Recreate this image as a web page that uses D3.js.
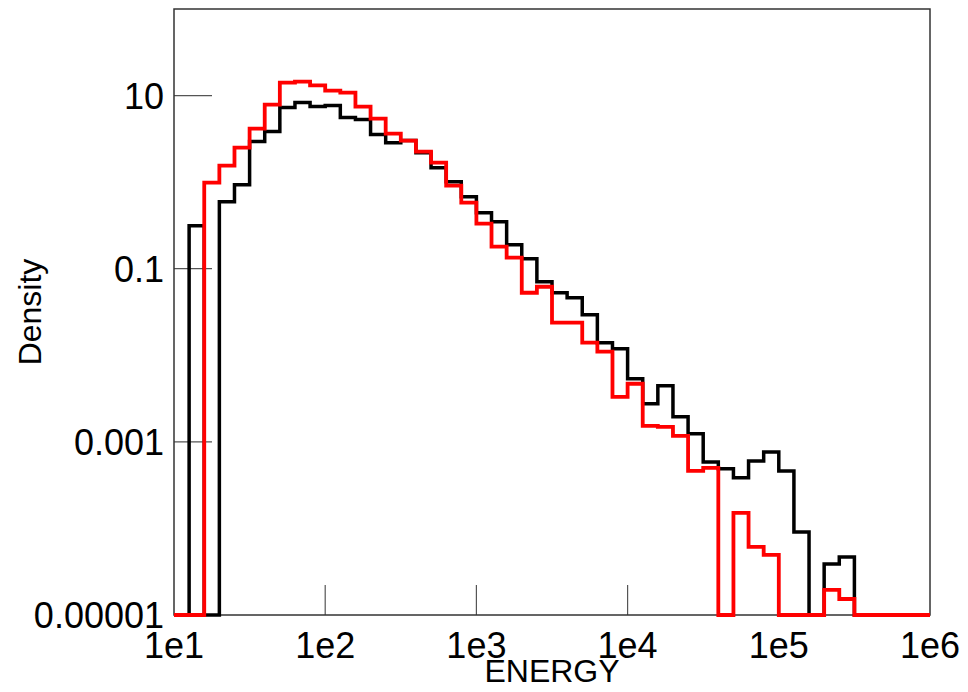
<!DOCTYPE html>
<html>
<head>
<meta charset="utf-8">
<script src="https://cdnjs.cloudflare.com/ajax/libs/d3/7.8.5/d3.min.js"></script>
<style>
	body { margin: 0; background: white; }
	text { font-family: "Liberation Sans", Arial, sans-serif; fill: black; }
</style>
</head>
<body>
<script>
// histogram: 10 log bins per decade from 1e1 to 1e6 (0 = empty bin)
var binStart = 1e1
var binsPerDecade = 10

var blackDensity = [
	0, 0.314, 0, 0.595, 0.936, 2.94, 3.84, 7.26, 8.30, 7.46,
	7.66, 5.57, 5.28, 3.54, 2.86, 3.02, 2.19, 1.47, 1.01, 0.680,
	0.444, 0.349, 0.189, 0.130, 0.0708, 0.0528, 0.0462, 0.0294, 0.0140, 0.0119,
	0.00535, 0.00275, 0.00444, 0.00195, 0.00124, 0.000587, 0.000488, 0.000384, 0.000603, 0.000766,
	0.000462, 0.0000911, 0, 0.0000389, 0.0000469, 0, 0, 0, 0, 0
]

var redDensity = [
	0, 0, 0.987, 1.55, 2.51, 4.15, 7.87, 14.1, 14.5, 13.1,
	11.4, 10.8, 7.46, 5.42, 3.64, 3.02, 2.25, 1.68, 0.911, 0.579,
	0.331, 0.180, 0.134, 0.0528, 0.0619, 0.0238, 0.0238, 0.0140, 0.0110, 0.00331,
	0.00469, 0.00153, 0.00149, 0.00117, 0.000462, 0.000500, 0, 0.000151, 0.0000611, 0.0000494,
	0, 0, 0, 0.0000195, 0.0000153, 0, 0, 0, 0, 0
]

var xTicks = [1e1, 1e2, 1e3, 1e4, 1e5, 1e6]
var xTickLabels = ["1e1", "1e2", "1e3", "1e4", "1e5", "1e6"]
var yTicks = [1e-5, 1e-3, 1e-1, 10]
var yTickLabels = ["0.00001", "0.001", "0.1", "10"]

var w = 968
var h = 692
var plotLeft = 174, plotRight = 930, plotTop = 9, plotBottom = 615

var xScale = d3.scaleLog()
	.domain([1e1, 1e6])
	.range([plotLeft, plotRight])

var yScale = d3.scaleLog()
	.domain([1e-5, 100])
	.range([plotBottom, plotTop])

var svg = d3.select("body")
	.append("svg")
	.attr("width", w)
	.attr("height", h)

// inward ticks
svg.append("g")
	.selectAll("line")
	.data(yTicks.slice(1))
	.enter()
	.append("line")
	.attr("x1", plotLeft)
	.attr("x2", plotLeft + 38)
	.attr("y1", (d) => yScale(d))
	.attr("y2", (d) => yScale(d))
	.attr("stroke", "#555")
	.attr("stroke-width", 1.2)

svg.append("g")
	.selectAll("line")
	.data(xTicks.slice(1, -1))
	.enter()
	.append("line")
	.attr("x1", (d) => xScale(d))
	.attr("x2", (d) => xScale(d))
	.attr("y1", plotBottom)
	.attr("y2", plotBottom - 30)
	.attr("stroke", "#555")
	.attr("stroke-width", 1.2)

// frame
svg.append("rect")
	.attr("x", plotLeft)
	.attr("y", plotTop)
	.attr("width", plotRight - plotLeft)
	.attr("height", plotBottom - plotTop)
	.attr("fill", "none")
	.attr("stroke", "#333")
	.attr("stroke-width", 1.5)

function stepPoints(values){
	var pts = values.map((v, i) => [binStart * Math.pow(10, i / binsPerDecade), v])
	pts.push([binStart * Math.pow(10, values.length / binsPerDecade), values[values.length - 1]])
	return pts
}

var line = d3.line()
	.x((d) => xScale(d[0]))
	.y((d) => d[1] > 0 ? yScale(d[1]) : plotBottom)
	.curve(d3.curveStepAfter)

svg.append("path")
	.datum(stepPoints(blackDensity))
	.attr("d", line)
	.attr("fill", "none")
	.attr("stroke", "black")
	.attr("stroke-width", 3.5)

svg.append("path")
	.datum(stepPoints(redDensity))
	.attr("d", line)
	.attr("fill", "none")
	.attr("stroke", "#ff0000")
	.attr("stroke-width", 3.8)

// tick labels
svg.append("g")
	.selectAll("text")
	.data(xTicks)
	.enter()
	.append("text")
	.attr("x", (d) => xScale(d))
	.attr("y", 658)
	.attr("text-anchor", "middle")
	.style("font-size", "36px")
	.text((d, i) => xTickLabels[i])

svg.append("g")
	.selectAll("text")
	.data(yTicks)
	.enter()
	.append("text")
	.attr("x", 164)
	.attr("y", (d) => yScale(d))
	.attr("dy", "0.36em")
	.attr("text-anchor", "end")
	.style("font-size", "36px")
	.text((d, i) => yTickLabels[i])

// axis titles
svg.append("text")
	.attr("x", (plotLeft + plotRight) / 2)
	.attr("y", 682)
	.attr("text-anchor", "middle")
	.style("font-size", "32px")
	.text("ENERGY")

svg.append("text")
	.attr("transform", "translate(41," + ((plotTop + plotBottom) / 2) + ") rotate(-90)")
	.attr("text-anchor", "middle")
	.style("font-size", "32px")
	.text("Density")
</script>
</body>
</html>
